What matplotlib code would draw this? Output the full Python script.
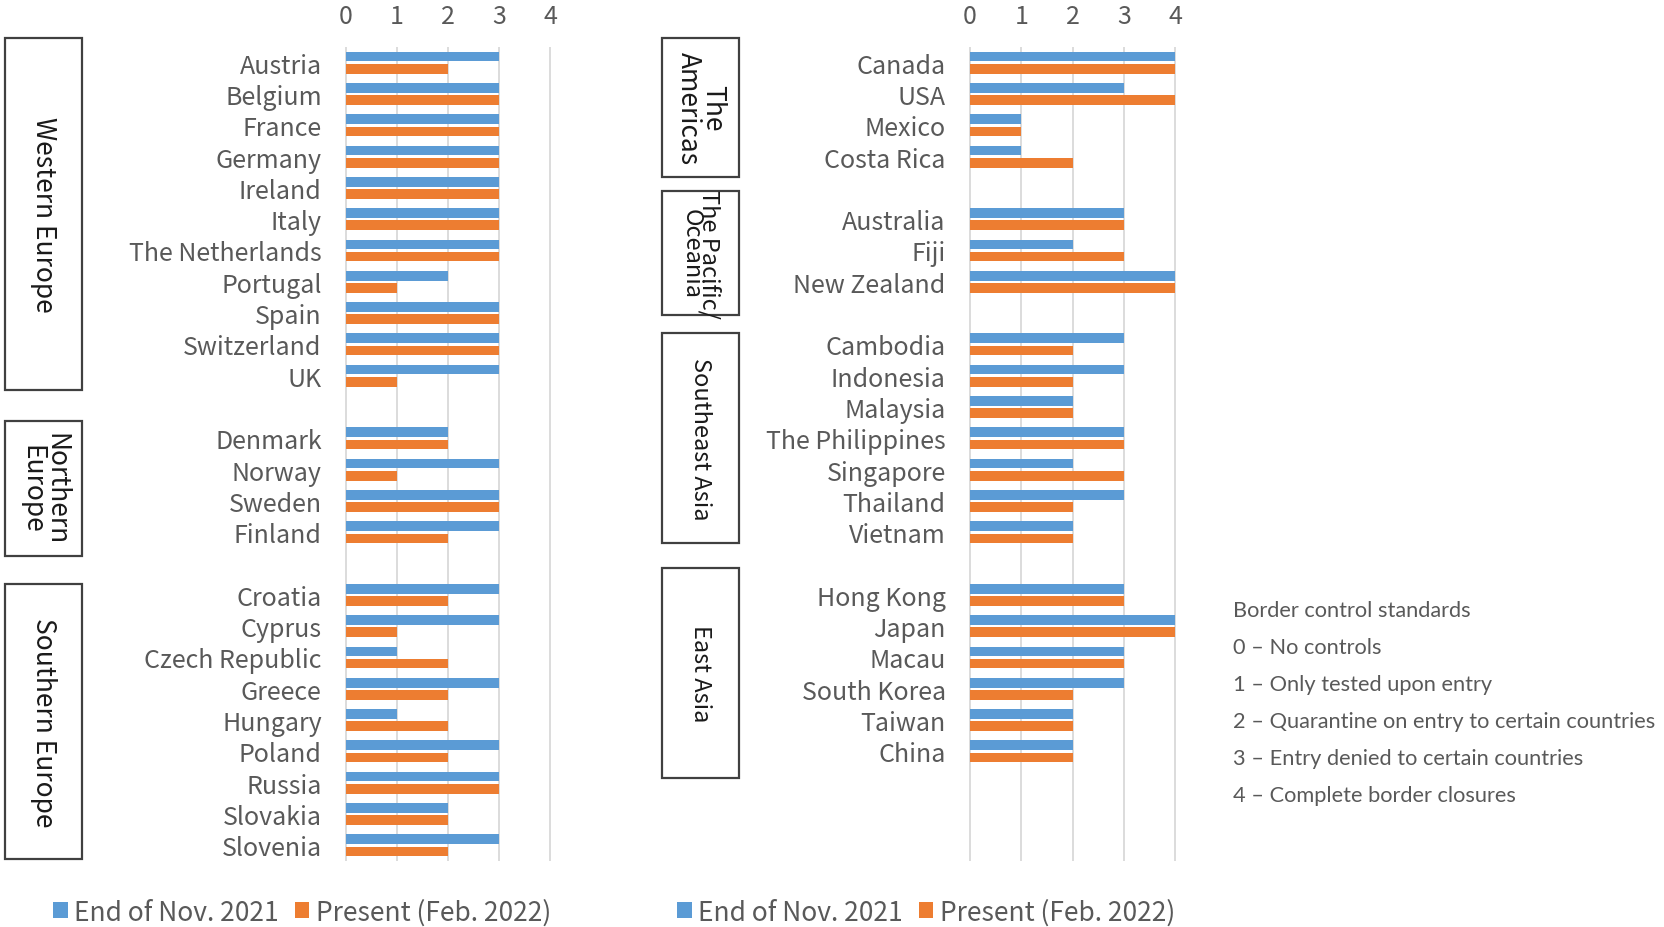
import matplotlib
matplotlib.use("Agg")
import matplotlib.pyplot as plt
from matplotlib.patches import Rectangle
import numpy as np

# ---- Border control scores by country (0-4) ----
west_countries = ["Austria", "Belgium", "France", "Germany", "Ireland", "Italy",
                  "The Netherlands", "Portugal", "Spain", "Switzerland", "UK"]
west_nov = [3, 3, 3, 3, 3, 3, 3, 2, 3, 3, 3]
west_feb = [2, 3, 3, 3, 3, 3, 3, 1, 3, 3, 1]

north_countries = ["Denmark", "Norway", "Sweden", "Finland"]
north_nov = [2, 3, 3, 3]
north_feb = [2, 1, 3, 2]

south_countries = ["Croatia", "Cyprus", "Czech Republic", "Greece", "Hungary",
                   "Poland", "Russia", "Slovakia", "Slovenia"]
south_nov = [3, 3, 1, 3, 1, 3, 3, 2, 3]
south_feb = [2, 1, 2, 2, 2, 2, 3, 2, 2]

americas_countries = ["Canada", "USA", "Mexico", "Costa Rica"]
americas_nov = [4, 3, 1, 1]
americas_feb = [4, 4, 1, 2]

oceania_countries = ["Australia", "Fiji", "New Zealand"]
oceania_nov = [3, 2, 4]
oceania_feb = [3, 3, 4]

sea_countries = ["Cambodia", "Indonesia", "Malaysia", "The Philippines",
                 "Singapore", "Thailand", "Vietnam"]
sea_nov = [3, 3, 2, 3, 2, 3, 2]
sea_feb = [2, 2, 2, 3, 3, 2, 2]

east_countries = ["Hong Kong", "Japan", "Macau", "South Korea", "Taiwan", "China"]
east_nov = [3, 4, 3, 3, 2, 2]
east_feb = [3, 4, 3, 2, 2, 2]

series_labels = ["End of Nov. 2021", "Present (Feb. 2022)"]
score_ticks = [0, 1, 2, 3, 4]

standards_title = "Border control standards"
standards = ["0 – No controls",
             "1 – Only tested upon entry",
             "2 – Quarantine on entry to certain countries",
             "3 – Entry denied to certain countries",
             "4 – Complete border closures"]

# ---- Styling ----
BLUE = "#5b9bd5"
ORANGE = "#ed7d31"
GRID = "#d9d9d9"
TEXT = "#595959"
LABEL_FONT = ["Noto Sans CJK JP", "DejaVu Sans"]
NOTE_FONT = ["Lato", "DejaVu Sans"]
LABEL_SIZE = 18
LEGEND_SIZE = 19
NOTE_SIZE = 15.7
N_ROWS = 26
BAR_H = 0.31
BAR_OFF = 0.195

W, H = 1664, 928
fig = plt.figure(figsize=(W / 100, H / 100), dpi=100)
fig.patch.set_facecolor("white")


def fx(px):
    return px / W


def fy(py):
    return 1 - py / H


def draw_panel(ax, groups):
    labels, nov, feb, pos = [], [], [], []
    row = 0
    for names, a, b in groups:
        for name, va, vb in zip(names, a, b):
            labels.append(name)
            nov.append(va)
            feb.append(vb)
            pos.append(row)
            row += 1
        row += 1  # empty row separating regions
    pos = np.array(pos, dtype=float)
    b1 = ax.barh(pos - BAR_OFF, nov, height=BAR_H, color=BLUE, zorder=3,
                 label=series_labels[0])
    b2 = ax.barh(pos + BAR_OFF, feb, height=BAR_H, color=ORANGE, zorder=3,
                 label=series_labels[1])
    ax.set_ylim(N_ROWS - 0.5, -0.5)
    ax.set_xlim(score_ticks[0], score_ticks[-1])
    ax.vlines(score_ticks, -0.5, N_ROWS - 0.5, color=GRID, lw=1.3,
              zorder=1, clip_on=False)
    ax.set_yticks(pos)
    ax.set_yticklabels(labels, fontfamily=LABEL_FONT, fontsize=LABEL_SIZE,
                       color=TEXT)
    ax.tick_params(axis="y", length=0, pad=17.5)
    ax.xaxis.set_ticks_position("top")
    ax.set_xticks(score_ticks)
    ax.set_xticklabels([str(t) for t in score_ticks], fontfamily=LABEL_FONT,
                       fontsize=LABEL_SIZE, color=TEXT)
    ax.tick_params(axis="x", length=0, pad=13)
    for s in ax.spines.values():
        s.set_visible(False)
    ax.set_facecolor("none")
    return b1, b2


top_px, bot_px = 48, 862
axL = fig.add_axes([fx(346), fy(bot_px), fx(550 - 346), (bot_px - top_px) / H])
axR = fig.add_axes([fx(970), fy(bot_px), fx(1175 - 970), (bot_px - top_px) / H])

hL = draw_panel(axL, [(west_countries, west_nov, west_feb),
                      (north_countries, north_nov, north_feb),
                      (south_countries, south_nov, south_feb)])
hR = draw_panel(axR, [(americas_countries, americas_nov, americas_feb),
                      (oceania_countries, oceania_nov, oceania_feb),
                      (sea_countries, sea_nov, sea_feb),
                      (east_countries, east_nov, east_feb)])

# ---- Region boxes ----
def region_box(x0, y0, x1, y1, text, size=19, linespacing=0.95):
    fig.patches.append(Rectangle((fx(x0), fy(y1)), fx(x1 - x0), (y1 - y0) / H,
                                 transform=fig.transFigure, fill=False,
                                 edgecolor="#404040", lw=1.6))
    fig.text(fx((x0 + x1) / 2), fy((y0 + y1) / 2), text, rotation=270,
             ha="center", va="center", multialignment="center",
             fontfamily=LABEL_FONT, fontsize=size, color="#1a1a1a",
             linespacing=linespacing, rotation_mode="anchor")


region_box(5, 39, 82, 391, "Western Europe")
region_box(5, 422, 82, 557, "Northern\nEurope", linespacing=0.85)
region_box(5, 585, 82, 860, "Southern Europe")
region_box(662, 39, 739, 178, "The\nAmericas", linespacing=0.85)
region_box(662, 192, 739, 316, "The Pacific/\nOceania", size=17, linespacing=0.72)
region_box(662, 334, 739, 544, "Southeast Asia", size=17)
region_box(662, 569, 739, 779, "East Asia", size=17)

# ---- Series legends under each panel ----
for handles, x in ((hL, 40), (hR, 664)):
    fig.legend(handles, series_labels, loc="center left",
               bbox_to_anchor=(fx(x), fy(913)), ncol=2, frameon=False,
               handlelength=0.55, handleheight=0.55, handletextpad=0.25,
               columnspacing=0.6, borderpad=0,
               prop={"family": LABEL_FONT, "size": LEGEND_SIZE},
               labelcolor=TEXT)

# ---- Scale description ----
fig.text(fx(1233), fy(611), standards_title, ha="left", va="center",
         fontfamily=NOTE_FONT, fontsize=NOTE_SIZE, color=TEXT)
for i, line in enumerate(standards):
    fig.text(fx(1233), fy(648 + 37 * i), line, ha="left", va="center",
             fontfamily=NOTE_FONT, fontsize=NOTE_SIZE, color=TEXT)

fig.savefig("out.png", dpi=100, facecolor="white")
